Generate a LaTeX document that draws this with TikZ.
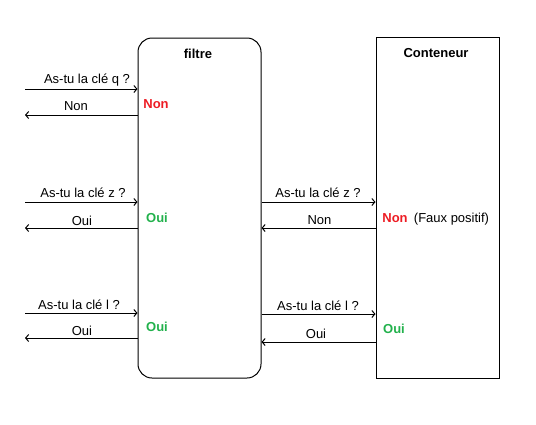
\documentclass[tikz,border=0pt]{standalone}
\usepackage{fontspec}
\setmainfont{Liberation Sans}
\usetikzlibrary{arrows.meta}
\definecolor{nonred}{RGB}{237,28,36}
\definecolor{ouigreen}{RGB}{34,177,76}
\begin{document}
\begin{tikzpicture}[x=1pt,y=-1pt,
  box/.style={draw,line width=1pt,minimum width=123pt,inner sep=0pt},
  msg/.style={->,line width=1pt,>={Straight Barb[length=3pt,width=7pt]}},
  txt/.style={anchor=base,inner sep=0pt,font=\fontsize{13}{15}\selectfont},
  btxt/.style={txt,font=\fontsize{13}{15}\selectfont\bfseries},
  rep/.style={btxt,text=#1}]
\useasboundingbox (0,0) rectangle (536,424);
% boxes
\node[box,rounded corners=14pt,minimum height=340pt] (filtre) at (199.5,208) {};
\node[box,minimum height=341pt] (cont) at (437.5,207.5) {};
\node[btxt] (tf) at (198,58) {filtre};
\node[btxt] (tc) at (436,57) {Conteneur};
% free ends
\coordinate (a1) at (25,89);
\coordinate (b1) at (25,115);
\coordinate (a2) at (25,202);
\coordinate (b2) at (25,228);
\coordinate (a3) at (25,313);
\coordinate (b3) at (25,338);
% row 1
\draw[msg] (a1) -- (filtre.west |- a1);
\draw[msg] (filtre.west |- b1) -- (b1);
\node[txt] (q1) at (87,83) {As-tu la clé q ?};
\node[txt] (r1) at (76,110) {Non};
\node[rep=nonred] (f1) at (156,108) {Non};
% row 2
\draw[msg] (a2) -- (filtre.west |- a2);
\draw[msg] (filtre.west |- b2) -- (b2);
\node[txt] (q2) at (83,197) {As-tu la clé z ?};
\node[txt] (r2) at (82,225) {Oui};
\node[rep=ouigreen] (f2) at (157,222) {Oui};
\draw[msg] (filtre.east |- a2) -- (cont.west |- a2);
\draw[msg] (cont.west |- b2) -- (filtre.east |- b2);
\node[txt] (q2r) at (318,197) {As-tu la clé z ?};
\node[txt] (r2r) at (319.5,224) {Non};
\node[rep=nonred] (c2) at (395,222) {Non};
\node[txt] (fp) at (451.5,222) {(Faux positif)};
% row 3
\coordinate (a3r) at (261,314);
\coordinate (b3r) at (261,342);
\draw[msg] (a3) -- (filtre.west |- a3);
\draw[msg] (filtre.west |- b3) -- (b3);
\node[txt] (q3) at (79,309) {As-tu la clé l ?};
\node[txt] (r3) at (82,335) {Oui};
\node[rep=ouigreen] (f3) at (157,331) {Oui};
\draw[msg] (filtre.east |- a3r) -- (cont.west |- a3r);
\draw[msg] (cont.west |- b3r) -- (filtre.east |- b3r);
\node[txt] (q3r) at (318,310) {As-tu la clé l ?};
\node[txt] (r3r) at (316,338) {Oui};
\node[rep=ouigreen] (c3) at (394,333) {Oui};
\end{tikzpicture}
\end{document}
